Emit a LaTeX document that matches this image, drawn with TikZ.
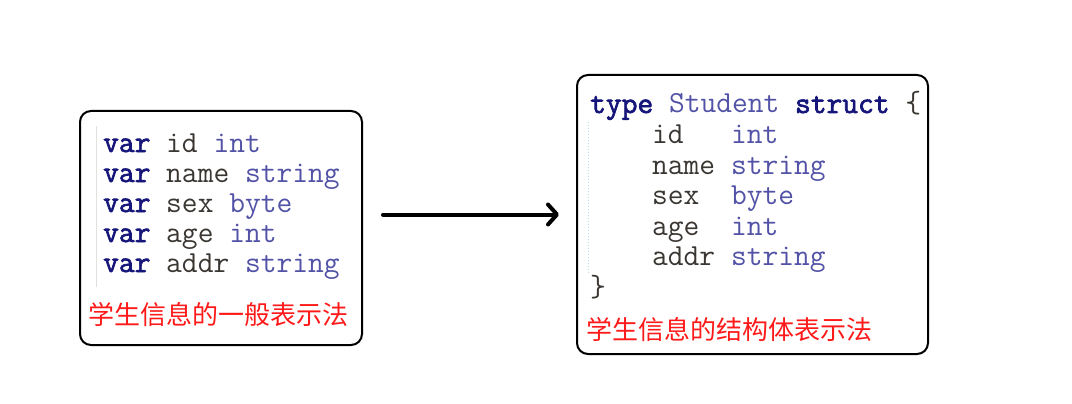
\documentclass[tikz,border=0pt]{standalone}
\usepackage{fontspec}
\usetikzlibrary{arrows.meta}
\newfontfamily\codefont{Latin Modern Mono}[BoldFont={Latin Modern Mono},BoldFeatures={FakeBold=2.2}]
\newfontfamily\cjkfont{Noto Sans CJK SC}
\definecolor{kwcol}{HTML}{15157A}
\definecolor{idcol}{HTML}{3A3632}
\definecolor{tycol}{HTML}{5252A6}
\definecolor{redcol}{HTML}{FF1A1A}
\definecolor{guidecol}{HTML}{E0E0E0}
\definecolor{dotcol}{HTML}{BFDCEB}
\newcommand{\kw}[1]{\textcolor{kwcol}{\bfseries #1}}
\newcommand{\idt}[1]{\textcolor{idcol}{#1}}
\newcommand{\ty}[1]{\textcolor{tycol}{#1}}
\begin{document}
\begin{tikzpicture}[x=1pt,y=-1pt,
  box/.style={draw=black, line width=2pt, rounded corners=11pt},
  code/.style={anchor=base west, inner sep=0pt, font=\codefont\fontsize{30.6}{30}\selectfont},
  captext/.style={anchor=base west, inner sep=0pt, text=redcol, font=\cjkfont\fontsize{26}{30}\selectfont}]
\useasboundingbox (0,0) rectangle (1072,404);
% boxes
\node[box, minimum width=282pt, minimum height=234pt] (L) at (221,228) {};
\node[box, minimum width=351pt, minimum height=279pt] (R) at (752.5,214.5) {};
% guides
\draw[guidecol, line width=1.5pt] (96.5,126) -- (96.5,287);
\draw[dotcol, line width=1pt, dotted] (588.5,122) -- (588.5,273);
% left code
\node[code] (l1) at (103,152) {\kw{var} \idt{id} \ty{int}};
\node[code] (l2) at (103,182) {\kw{var} \idt{name} \ty{string}};
\node[code] (l3) at (103,212) {\kw{var} \idt{sex} \ty{byte}};
\node[code] (l4) at (103,242) {\kw{var} \idt{age} \ty{int}};
\node[code] (l5) at (103,272) {\kw{var} \idt{addr} \ty{string}};
\node[captext] (lc) at (88,324) {学生信息的一般表示法};
% right code
\node[code] (r0) at (590,113) {\kw{type} \ty{Student} \kw{struct} \idt{\{}};
\node[code] (r1) at (652,143.5) {\idt{id}~~~\ty{int}};
\node[code] (r2) at (652,174) {\idt{name} \ty{string}};
\node[code] (r3) at (652,204.5) {\idt{sex}~~\ty{byte}};
\node[code] (r4) at (652,235) {\idt{age}~~\ty{int}};
\node[code] (r5) at (652,265.5) {\idt{addr} \ty{string}};
\node[code] (r6) at (590,296) {\idt{\}}};
\node[captext] (rc) at (586,339) {学生信息的结构体表示法};
% arrow
\draw[line width=4pt, line cap=round, -{Straight Barb[round, length=9pt, width=20pt]}, shorten <=20pt, shorten >=17pt]
  (L.east |- R.west) -- (R.west);
\end{tikzpicture}
\end{document}
